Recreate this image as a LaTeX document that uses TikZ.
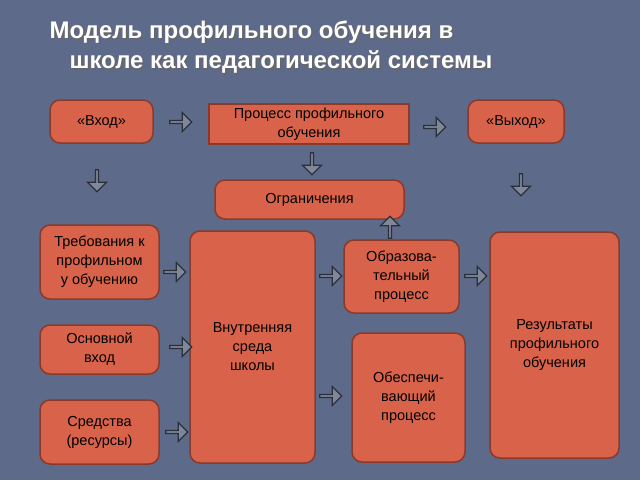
\documentclass[tikz,border=0pt]{standalone}
\usepackage{fontspec}
\setmainfont{Liberation Sans}
\usetikzlibrary{shapes.arrows}
\definecolor{bg}{HTML}{5E6A8A}
\definecolor{boxf}{HTML}{D9634A}
\definecolor{boxd}{HTML}{8A3A2A}
\definecolor{arrf}{HTML}{7E8898}
\definecolor{arrd}{HTML}{2A2F3A}
\tikzset{
  box/.style={draw=boxd,line width=1.5pt,fill=boxf,rounded corners=10pt,align=center,font=\fontsize{14.5}{19}\selectfont,text=black,inner sep=2pt},
  sbox/.style={box,rounded corners=0pt},
  barr/.style={single arrow,draw=arrd,fill=arrf,line width=1.2pt,minimum height=22pt,minimum width=19pt,single arrow head extend=3pt,inner sep=0pt,single arrow tip angle=90}
}
\newcommand{\bx}[7]{\node[#1,minimum width=#4pt-#2pt,minimum height=#5pt-#3pt] (#6) at ({(#2+#4)/2},{(#3+#5)/2}) {#7};}
\begin{document}
\begin{tikzpicture}[x=1pt,y=-1pt]
\fill[bg] (0,0) rectangle (640,480);
\useasboundingbox (0,0) rectangle (640,480);
\tikzset{tt/.style={anchor=west,font=\bfseries\fontsize{24}{28}\selectfont}}
\node[tt,text=black!60] at (47.5,33.5) {Модель профильного обучения в};
\node[tt,text=white] (t1) at (46,32) {Модель профильного обучения в};
\node[tt,text=black!60] at (67.5,63.5) {школе как педагогической системы};
\node[tt,text=white] (t2) at (66,62) {школе как педагогической системы};
\bx{box}{50}{100}{153}{143}{vh}{«Вход»}
\bx{sbox}{209}{104}{409}{144}{pr}{Процесс профильного\\обучения}
\bx{box}{468}{100}{564}{143}{vy}{«Выход»}
\bx{box}{215}{180}{404}{219}{og}{Ограничения}
\bx{box}{40}{225}{159}{299}{tr}{Требования к\\профильном\\у обучению}
\bx{box}{190}{231}{315}{463}{vs}{Внутренняя\\среда\\школы}
\bx{box}{344}{240}{459}{313}{ob}{Образова-\\тельный\\процесс}
\bx{box}{490}{232}{619}{458}{re}{Результаты\\профильного\\обучения}
\bx{box}{40}{325}{159}{374}{os}{Основной\\вход}
\bx{box}{352}{333}{465}{462}{oe}{Обеспечи-\\вающий\\процесс}
\bx{box}{40}{400}{159}{464}{sr}{Средства\\(ресурсы)}
\node[barr] (a1) at (180,122) {};
\node[barr] (a2) at (434,127) {};
\node[barr,rotate=-90] (a3) at (97,180) {};
\node[barr,rotate=-90] (a4) at (312,163) {};
\node[barr,rotate=-90] (a5) at (521,184) {};
\node[barr,rotate=90] (a6) at (390,228) {};
\node[barr] (a7) at (174,272) {};
\node[barr] (a8) at (180,347) {};
\node[barr] (a9) at (176,432) {};
\node[barr] (a10) at (330,276) {};
\node[barr] (a11) at (330,396) {};
\node[barr] (a12) at (475,276) {};
\end{tikzpicture}
\end{document}
